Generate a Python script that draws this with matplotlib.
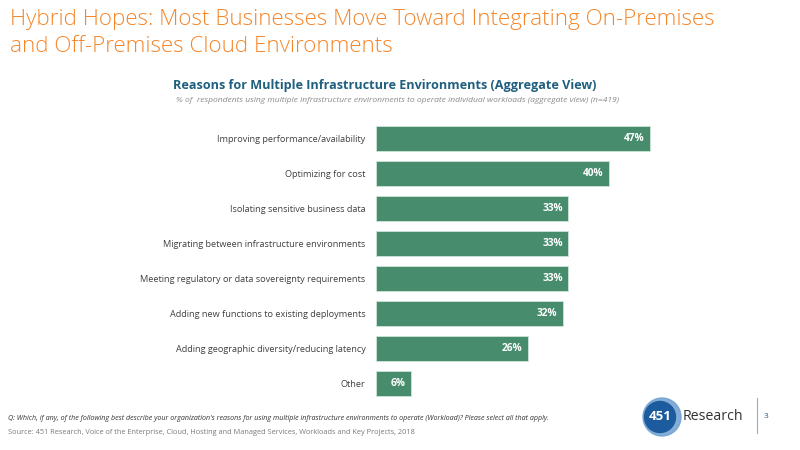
import matplotlib
matplotlib.use("Agg")
import matplotlib.pyplot as plt
from matplotlib.patches import Circle

categories = [
    "Improving performance/availability",
    "Optimizing for cost",
    "Isolating sensitive business data",
    "Migrating between infrastructure environments",
    "Meeting regulatory or data sovereignty requirements",
    "Adding new functions to existing deployments",
    "Adding geographic diversity/reducing latency",
    "Other",
]
values = [47, 40, 33, 33, 33, 32, 26, 6]
value_labels = ["47%", "40%", "33%", "33%", "33%", "32%", "26%", "6%"]

W, H = 800, 450
fig = plt.figure(figsize=(8, 4.5), dpi=100)
fig.patch.set_facecolor("white")

FONT = "Open Sans"
orange = "#F4862A"
green = "#488C6E"
blue_title = "#1F5F7F"

# Main title
fig.text(10 / W, 1 - 20 / H, "Hybrid Hopes: Most Businesses Move Toward Integrating On-Premises",
         fontsize=16.1, color=orange, family=FONT, fontweight="light", va="center", ha="left")
fig.text(10 / W, 1 - 46 / H, "and Off-Premises Cloud Environments",
         fontsize=16.1, color=orange, family=FONT, fontweight="light", va="center", ha="left")

# Chart title and subtitle
fig.text(385 / W, 1 - 85 / H, "Reasons for Multiple Infrastructure Environments (Aggregate View)",
         fontsize=9.1, color=blue_title, family=FONT, fontweight="bold", va="center", ha="center")
fig.text(397 / W, 1 - 100 / H,
         "% of  respondents using multiple infrastructure environments to operate individual workloads (aggregate view) (n=419)",
         fontsize=6.1, color="#8a8a8a", family=FONT, style="italic", va="center", ha="center")

# Bars axes
x0 = 376
scale = (650 - 376) / 47.0
xmax = 60
ax_w = xmax * scale
top_px, bot_px = 121.5, 400.5
ax = fig.add_axes([x0 / W, 1 - bot_px / H, ax_w / W, (bot_px - top_px) / H])
y = list(range(len(categories)))
ax.barh(y, values, height=0.72, color=green, edgecolor="#cfe3d8", linewidth=0.6)
ax.set_xlim(0, xmax)
ax.set_ylim(len(categories) - 0.5, -0.5)
for spine in ax.spines.values():
    spine.set_visible(False)
ax.set_xticks([])
ax.set_yticks(y)
ax.set_yticklabels(categories, fontsize=6.6, color="#404040", family=FONT)
ax.tick_params(axis="y", length=0, pad=7.5)
for yi, v, lab in zip(y, values, value_labels):
    ax.annotate(lab, xy=(v, yi), xytext=(-4, 0), textcoords="offset points",
                ha="right", va="center", color="white", fontsize=7.3, fontweight="bold", family=FONT)

# Footnotes
fig.text(8 / W, 1 - 418 / H,
         "Q: Which, if any, of the following best describe your organization's reasons for using multiple infrastructure environments to operate (Workload)? Please select all that apply.",
         fontsize=5.1, color="#333333", family=FONT, style="italic", va="center", ha="left")
fig.text(8 / W, 1 - 433 / H,
         "Source: 451 Research, Voice of the Enterprise, Cloud, Hosting and Managed Services, Workloads and Key Projects, 2018",
         fontsize=5.35, color="#7a7a7a", family=FONT, va="center", ha="left")

# Logo
lax = fig.add_axes([0, 0, 1, 1], facecolor="none")
lax.set_xlim(0, W)
lax.set_ylim(H, 0)
lax.axis("off")
lax.add_patch(Circle((662, 417), 19, color="#6FA0D0", alpha=0.85))
lax.add_patch(Circle((660, 417), 15.5, color="#1C5C9E"))
lax.text(660, 417, "451", color="white", fontsize=9.5, fontweight="bold", family=FONT, ha="center", va="center")
lax.text(683, 416, "Research", color="#333333", fontsize=10.2, family=FONT, ha="left", va="center")
lax.plot([757, 757], [398, 433], color="#9aa8b8", linewidth=0.8)
lax.text(764, 417, "3", color="#2B5C8A", fontsize=6, family=FONT, ha="left", va="center")

fig.savefig("out.png", dpi=100, facecolor="white")
